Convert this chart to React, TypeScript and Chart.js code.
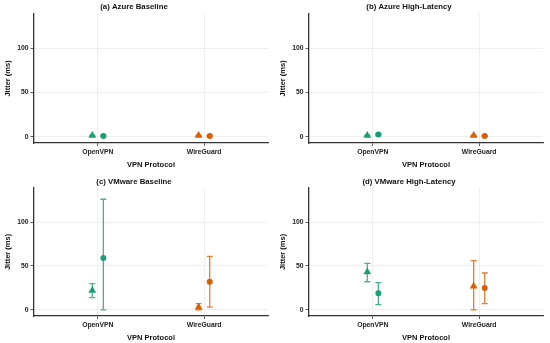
import React, { useEffect, useRef } from "react";
import { Chart, registerables } from "chart.js";
Chart.register(...registerables);

const panelTitles = ["(a) Azure Baseline", "(b) Azure High-Latency", "(c) VMware Baseline", "(d) VMware High-Latency"];
const categories = ["OpenVPN", "WireGuard"];
const yTicks = [0, 50, 100];
const categoryColors = ["#1B9E77", "#D95F02"];
const barColors = ["rgba(27,158,119,0.8)", "rgba(217,95,2,0.8)"];

// per panel: [OpenVPN, WireGuard]
const triMean = [[1.5, 1.5], [1.5, 1.5], [22, 3], [43, 27]];
const triLow = [[1, 1], [1, 1], [14, 0], [32, 0]];
const triHigh = [[2, 2], [2, 2], [30, 7], [53, 56]];
const circMean = [[1, 1], [2.5, 1], [59, 32], [19, 25]];
const circLow = [[0.5, 0.5], [1.5, 0.5], [0, 3], [6, 7]];
const circHigh = [[1.5, 1.5], [3.5, 1.5], [126, 61], [31, 42]];

const FONT = "'Liberation Sans', Arial, sans-serif";

const errorBarPlugin = {
  id: "errorBars",
  beforeDatasetsDraw(chart: any) {
    const ctx = chart.ctx;
    const yScale = chart.scales.y;
    chart.data.datasets.forEach((ds: any, di: number) => {
      const meta = chart.getDatasetMeta(di);
      ds.data.forEach((pt: any, i: number) => {
        const el = meta.data[i];
        if (!el) return;
        const x = el.x;
        const yl = yScale.getPixelForValue(pt.lo);
        const yh = yScale.getPixelForValue(pt.hi);
        ctx.save();
        ctx.strokeStyle = barColors[i];
        ctx.lineWidth = 1.3;
        ctx.beginPath();
        ctx.moveTo(x, yl);
        ctx.lineTo(x, yh);
        ctx.moveTo(x - 3, yl);
        ctx.lineTo(x + 3, yl);
        ctx.moveTo(x - 3, yh);
        ctx.lineTo(x + 3, yh);
        ctx.stroke();
        ctx.restore();
      });
    });
  },
};

function Panel({ idx, top }: { idx: number; top: boolean }) {
  const ref = useRef<HTMLCanvasElement>(null);
  useEffect(() => {
    const tri = categories.map((_, i) => ({ x: i + 1 - 0.052, y: triMean[idx][i], lo: triLow[idx][i], hi: triHigh[idx][i] }));
    const circ = categories.map((_, i) => ({ x: i + 1 + 0.052, y: circMean[idx][i], lo: circLow[idx][i], hi: circHigh[idx][i] }));
    const chart = new Chart(ref.current!, {
      type: "scatter",
      data: {
        datasets: [
          { data: tri, pointStyle: "triangle", pointRadius: 4.5, backgroundColor: categoryColors, borderColor: categoryColors, borderWidth: 0 },
          { data: circ, pointStyle: "circle", pointRadius: 3, backgroundColor: categoryColors, borderColor: categoryColors, borderWidth: 0 },
        ],
      },
      options: {
        responsive: false,
        animation: false,
        layout: { padding: { left: 0, right: 7, top: 0, bottom: 0 } },
        plugins: {
          legend: { display: false },
          tooltip: { enabled: false },
          title: {
            display: true,
            text: panelTitles[idx],
            color: "#111",
            font: { family: FONT, size: 7.8, weight: "bold" },
            padding: top ? { top: 2.5, bottom: 2 } : { top: 7, bottom: 1.5 },
          },
        },
        scales: {
          x: {
            type: "linear",
            min: 0.4,
            max: 2.6,
            afterBuildTicks: (s: any) => { s.ticks = categories.map((_, i) => ({ value: i + 1 })); },
            afterFit: (s: any) => { s.height = 27; },
            ticks: {
              callback: (v: any) => categories[Math.round(v) - 1] ?? "",
              color: "#222",
              font: { family: FONT, size: 6.8, weight: "bold" },
              padding: 2,
              maxRotation: 0,
            },
            grid: { color: "#EBEBEB", lineWidth: 0.8, tickColor: "#333", tickLength: 3 },
            border: { display: true, color: "#333", width: 1.3 },
            title: { display: true, text: "VPN Protocol", color: "#111", font: { family: FONT, size: 7.5, weight: "bold" }, padding: { top: 0, bottom: 1 } },
          },
          y: {
            type: "linear",
            min: -7,
            max: 139,
            afterBuildTicks: (s: any) => { s.ticks = yTicks.map((v) => ({ value: v })); },
            afterFit: (s: any) => { s.width = 34; },
            ticks: { color: "#222", font: { family: FONT, size: 6.8, weight: "bold" }, padding: 2 },
            grid: { color: "#EBEBEB", lineWidth: 0.8, tickColor: "#333", tickLength: 3.5 },
            border: { display: true, color: "#333", width: 1.3 },
            title: { display: true, text: "Jitter (ms)", color: "#111", font: { family: FONT, size: 7.5, weight: "bold" }, padding: { top: 3, bottom: 0 } },
          },
        },
      },
      plugins: [errorBarPlugin],
    } as any);
    return () => chart.destroy();
  }, [idx, top]);
  return <canvas ref={ref} width={275} height={top ? 170 : 173} style={{ display: "block", width: 275, height: top ? 170 : 173 }} />;
}

export default function App() {
  return (
    <div style={{ position: "absolute", left: 0, top: 0, width: 550, height: 343, background: "#fff" }}>
      <div style={{ position: "absolute", left: 0, top: 0 }}><Panel idx={0} top={true} /></div>
      <div style={{ position: "absolute", left: 275, top: 0 }}><Panel idx={1} top={true} /></div>
      <div style={{ position: "absolute", left: 0, top: 170 }}><Panel idx={2} top={false} /></div>
      <div style={{ position: "absolute", left: 275, top: 170 }}><Panel idx={3} top={false} /></div>
    </div>
  );
}
